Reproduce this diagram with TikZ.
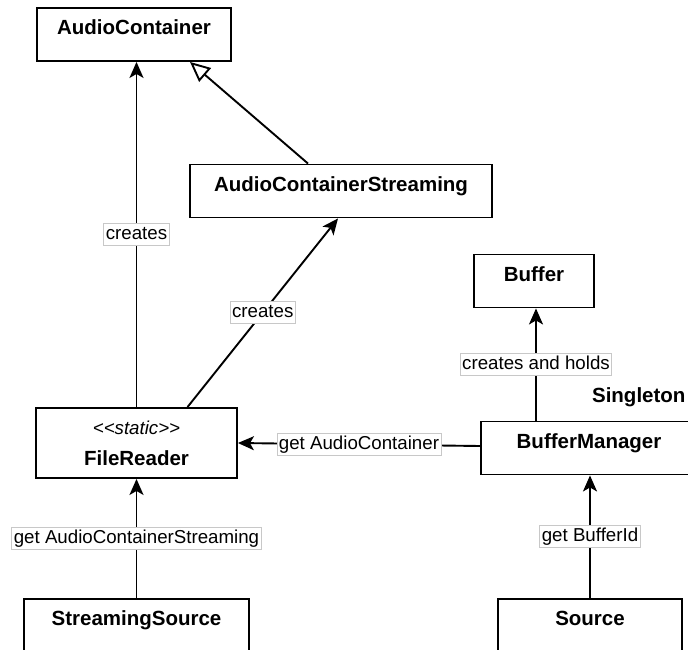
\documentclass[tikz,border=0pt]{standalone}
\usepackage{fontspec}
\setmainfont{Liberation Sans}
\usetikzlibrary{arrows.meta, positioning, calc}
\definecolor{LabelGray}{HTML}{C8C8C8}
\tikzset{
    % Class boxes
    classbox/.style={
        rectangle,
        draw=black,
        fill=white,
        line width=1.9pt,
        minimum height=53pt,
        inner sep=0pt,
        text height=7pt,
        text depth=7pt,
        font=\fontsize{20.5}{24}\selectfont\bfseries
    },
    staticbox/.style={
        rectangle,
        draw=black,
        fill=white,
        line width=1.9pt,
        minimum height=70pt,
        inner sep=0pt,
        align=center,
        font=\fontsize{20.5}{24}\selectfont
    },
    % Connector labels
    edgelabel/.style={
        fill=white,
        draw=LabelGray,
        line width=0.7pt,
        inner sep=2pt,
        text height=14pt,
        text depth=4pt,
        font=\fontsize{18.7}{22}\selectfont
    },
    % Arrow styles
    myarrow/.style={
        -{Stealth[length=16pt, width=14pt, inset=4pt]},
        line width=1.9pt
    },
    inheritarrow/.style={
        -{Triangle[open, length=20pt, width=18pt]},
        line width=1.9pt
    }
}
\begin{document}
\begin{tikzpicture}[x=1pt, y=-1pt]
    \useasboundingbox (0,0) rectangle (688,650);
    \clip (0,0) rectangle (688,650);

    % Classes
    \node[classbox, minimum width=194pt] (ac) at (134,34.5) {AudioContainer};
    \node[classbox, minimum width=302pt] (acs) at (341,191) {AudioContainerStreaming};
    \node[classbox, minimum width=120pt] (buf) at (534,281) {Buffer};
    \node[staticbox, minimum width=201pt] (fr) at (136.5,443)
        {\fontsize{18.7}{22}\selectfont\itshape\mbox{<}\mbox{<}static\mbox{>}\mbox{>}\\[7pt]\bfseries FileReader};
    \node[classbox, minimum width=216pt] (bm) at (589,448) {BufferManager};
    \node[classbox, minimum width=225pt] (ss) at (136.5,625.5) {StreamingSource};
    \node[classbox, minimum width=184pt] (src) at (590,625.5) {Source};
    \node[font=\fontsize{20.5}{24}\selectfont\bfseries, anchor=base east] (single) at (689,402) {Singleton};

    % Connectors
    \draw[myarrow] (fr.north) -- (fr.north |- ac.south) node[edgelabel, midway] {creates};
    \draw[myarrow] ([xshift=51pt]fr.north) -- ([xshift=-3pt]acs.south) node[edgelabel, midway] {creates};
    \draw[inheritarrow] ([xshift=-33pt]acs.north) -- ([xshift=56pt]ac.south);
    \draw[myarrow] ([xshift=-53pt]bm.north) -- ([xshift=-53pt]bm.north |- buf.south) node[edgelabel, midway] {creates and holds};
    \draw[myarrow] ([yshift=2pt]bm.west) -- (fr.east) node[edgelabel, midway] {get AudioContainer};
    \draw[myarrow] (src.north) -- (src.north |- bm.south) node[edgelabel, midway] {get BufferId};
    \draw[myarrow] (ss.north) -- (ss.north |- fr.south) node[edgelabel, midway] {get AudioContainerStreaming};
\end{tikzpicture}
\end{document}
